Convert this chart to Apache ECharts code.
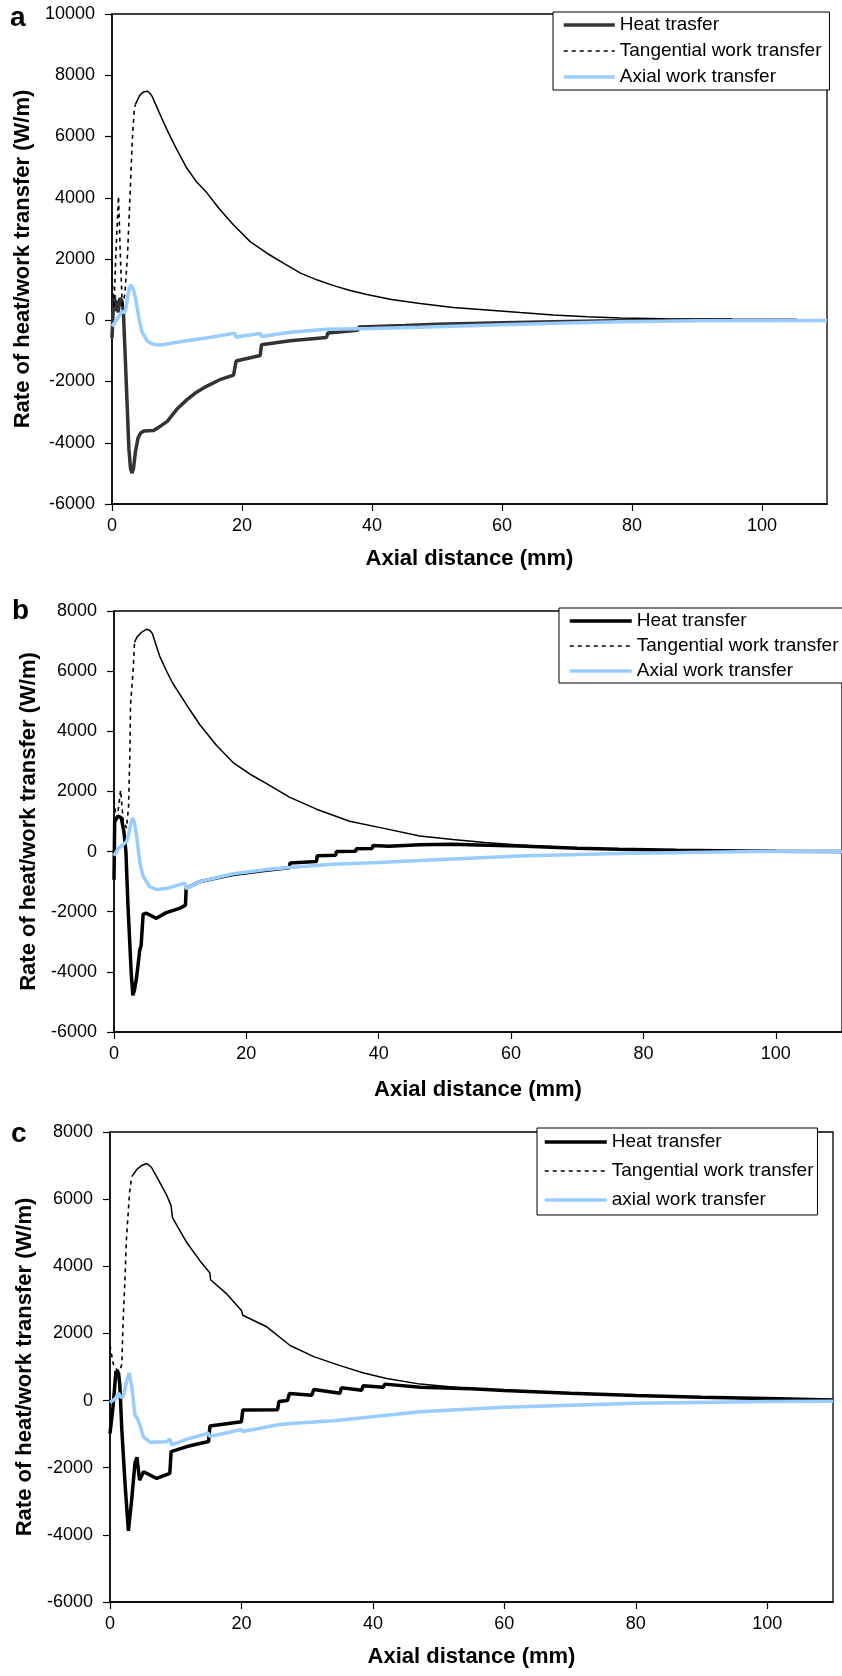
<!DOCTYPE html>
<html>
<head>
<meta charset="utf-8">
<script src="https://cdn.jsdelivr.net/npm/echarts@6/dist/echarts.min.js"></script>
<style>
  html, body { margin: 0; padding: 0; background: #fff; }
  #chart { width: 842px; height: 1676px; }
</style>
</head>
<body>
<div id="chart"></div>
<script>
// x axis ticks (mm)
let xMin = 0, xMax = 110, xStep = 20

// ---- panel a: [axial distance (mm), W/m]
let heatA = [[0, -580], [0.15, 200], [0.35, 820], [0.55, 300], [0.75, 650], [0.95, 250], [1.2, 720], [1.5, 650],
  [1.75, 300], [2.0, -1000], [2.3, -2600], [2.6, -4200], [2.85, -4850], [3.07, -4990], [3.3, -4850], [3.6, -4300],
  [4.0, -3850], [4.4, -3680], [4.9, -3620], [6.4, -3600], [7.5, -3450], [8.5, -3300], [10, -2900], [11.5, -2600],
  [13, -2350], [14.6, -2150], [16.5, -1950], [18.7, -1790], [19.0, -1780], [19.1, -1330], [22.8, -1150], [23.0, -800],
  [27.4, -670], [33.0, -560], [33.2, -420], [37.8, -330], [38, -220], [45, -170], [50, -130], [60, -80], [70, -40],
  [80, -10], [90, 0], [105.4, 0]]
let tangDashA = [[0, 1400], [0.3, 400], [0.6, 2200], [1.0, 4050], [1.3, 2000], [1.6, 400], [2.0, 900], [2.4, 2200],
  [2.8, 4200], [3.1, 5800], [3.4, 6800], [3.6, 7050]]
let tangA = [[3.6, 7050], [4.3, 7350], [4.8, 7450], [5.4, 7480], [5.8, 7420], [6.2, 7300], [6.9, 6960], [7.6, 6620],
  [8.4, 6250], [9.2, 5900], [10, 5560], [11.5, 4970], [13, 4520], [14.6, 4160], [16.5, 3640], [18.7, 3110],
  [21.3, 2560], [23.9, 2180], [26.5, 1850], [29, 1540], [31.5, 1320], [34.1, 1130], [36.5, 980], [39.2, 840],
  [43, 680], [47.4, 550], [52.5, 420], [57.7, 335], [62.8, 250], [67.9, 170], [73.1, 115], [78.2, 70], [85, 50],
  [95.4, 40]]
let axialA = [[0, -200], [0.4, -80], [0.7, 0], [1.1, 150], [1.5, 280], [1.9, 250], [2.1, 350], [2.4, 750], [2.7, 1080],
  [2.92, 1150], [3.2, 1050], [3.58, 770], [4.1, 120], [4.6, -370], [5.4, -670], [6.2, -780], [6.9, -810], [8, -790],
  [10, -720], [12, -650], [15, -560], [18.9, -420], [19.1, -560], [19.6, -530], [22.8, -430], [23.0, -530], [27.4, -390],
  [33, -290], [33.3, -340], [40, -270], [47.4, -230], [60, -150], [70, -90], [78.2, -45], [90, -20], [110, -10]]

// ---- panel b
let heatB = [[0, -940], [0.1, 1000], [0.3, 950], [0.6, 1180], [1.1, 1120], [1.5, 660], [1.8, 0], [2.1, -1740],
  [2.6, -4030], [2.85, -4780], [3.1, -4600], [3.4, -4200], [3.9, -3270], [4.1, -3120], [4.4, -2080], [4.9, -2050],
  [6.4, -2220], [7.9, -2030], [9.9, -1890], [10.8, -1780], [10.9, -1220], [13, -1000], [18, -760], [23, -620],
  [26.5, -540], [26.6, -380], [30.6, -330], [30.7, -140], [33.5, -120], [33.6, 0], [36.5, 10], [36.6, 90], [39, 100],
  [39.1, 200], [41.5, 180], [41.6, 240], [46.2, 230], [51, 240], [55, 220], [61.2, 185], [70, 110], [76.3, 75],
  [85, 40], [91.4, 30], [100, 10], [110, 5]]
let tangDashB = [[0, 1700], [0.4, 1000], [0.7, 1500], [1.0, 2040], [1.4, 1000], [1.9, 780], [2.2, 1500], [2.4, 3300],
  [2.5, 4900], [2.9, 6050], [3.1, 6960]]
let tangB = [[3.1, 6960], [3.5, 7140], [4.2, 7300], [4.9, 7390], [5.4, 7360], [5.8, 7250], [6.3, 6900], [6.9, 6500],
  [7.9, 6020], [8.9, 5590], [10.9, 4900], [13, 4210], [15.5, 3530], [18, 2960], [20.5, 2580], [23, 2270], [26.5, 1810],
  [30.6, 1410], [35.6, 1010], [40.6, 780], [46.2, 520], [51.2, 400], [56, 300], [61.2, 220], [70, 120], [76.3, 75],
  [91.4, 30], [97, 20]]
let axialB = [[0, -140], [0.6, 90], [1.4, 240], [1.9, 330], [2.2, 550], [2.5, 900], [2.8, 1120], [3.1, 950], [3.4, 550],
  [3.9, -370], [4.4, -820], [5.4, -1170], [6.4, -1260], [7.9, -1230], [10.7, -1050], [10.9, -1230], [13, -1000],
  [18, -740], [23, -600], [26.5, -530], [33, -420], [40, -360], [46.2, -300], [61.2, -145], [76.3, -60], [97, 0],
  [110, 0]]

// ---- panel c
let heatC = [[0, -985], [0.5, -110], [0.9, 875], [1.3, 820], [1.5, 440], [1.8, -875], [2.3, -2520], [2.8, -3880],
  [2.9, -3920], [3.3, -2950], [3.8, -1860], [4.1, -1690], [4.5, -2370], [5.1, -2120], [7.1, -2320], [9.1, -2170],
  [9.3, -1520], [11.7, -1370], [15.0, -1220], [15.2, -760], [20.0, -630], [20.2, -280], [25.5, -270], [25.7, -30],
  [27.0, 0], [27.3, 210], [30.7, 160], [31, 330], [35, 220], [35.2, 380], [38.3, 310], [38.5, 440], [41.6, 400],
  [41.8, 490], [47.2, 400], [55, 350], [60, 300], [70, 220], [80, 150], [90, 100], [100, 60], [110, 20]]
let tangDashC = [[0, 1640], [0.5, 1090], [1.0, 930], [1.5, 875], [1.8, 1090], [2.0, 2400], [2.3, 3720], [2.5, 4810],
  [2.8, 5690], [3.0, 6240], [3.3, 6670]]
let tangC = [[3.3, 6670], [4.1, 6890], [4.8, 7000], [5.6, 7060], [6.3, 6950], [7.1, 6670], [8.6, 6130], [9.3, 5800],
  [9.5, 5450], [11.7, 4700], [13.7, 4160], [15.2, 3800], [15.3, 3600], [17.8, 3170], [20, 2680], [20.2, 2540],
  [23.9, 2190], [27.4, 1640], [31, 1310], [35, 1040], [38.6, 820], [42.1, 660], [47.2, 490], [55, 350], [60, 290],
  [70, 210], [80, 140], [90, 90], [100, 50], [110, 20]]
let axialC = [[0, -55], [0.8, 55], [1.3, 220], [1.6, 110], [2.0, 110], [2.5, 550], [2.9, 820], [3.3, 440], [3.8, -440],
  [4.2, -550], [4.6, -770], [5.1, -1090], [6.1, -1240], [8.6, -1230], [9.1, -1150], [9.4, -1320], [11.7, -1150],
  [15.0, -975], [15.2, -1070], [20.0, -860], [20.2, -920], [25.6, -720], [27.4, -680], [34, -600], [47.2, -330],
  [60, -200], [80, -80], [100, -30], [110, -20]]

let yTicksA = { min: -6000, max: 10000, step: 2000 }
let yTicksBC = { min: -6000, max: 8000, step: 2000 }

let FONT = "'Liberation Sans', Arial, Helvetica, sans-serif"
let BLUE = '#99ccff'
let DASH = [4, 4]

let Chart = echarts.init(document.getElementById('chart'))

function xAx(i, gap) {
    return {
        gridIndex: i, type: 'value', min: xMin, max: xMax, interval: xStep,
        name: 'Axial distance (mm)', nameLocation: 'middle', nameGap: gap,
        nameTextStyle: { fontFamily: FONT, fontSize: 22, fontWeight: 'bold', color: '#000' },
        axisLine: { onZero: false, lineStyle: { color: '#000', width: 1.5 } },
        axisTick: { length: 7, lineStyle: { color: '#000', width: 1.2 } },
        axisLabel: { fontFamily: FONT, fontSize: 18, color: '#000', margin: 13, showMaxLabel: false },
        splitLine: { show: false }
    }
}
function yAx(i, t) {
    return {
        gridIndex: i, type: 'value', min: t.min, max: t.max, interval: t.step,
        name: 'Rate of heat/work transfer (W/m)', nameLocation: 'middle', nameRotate: 90, nameGap: 55,
        nameTextStyle: { fontFamily: FONT, fontSize: 22, fontWeight: 'bold', color: '#000' },
        axisLine: { onZero: false, lineStyle: { color: '#000', width: 1.5 } },
        axisTick: { length: 7, lineStyle: { color: '#000', width: 1.2 } },
        axisLabel: { fontFamily: FONT, fontSize: 18, color: '#000', margin: 17, formatter: v => String(v) },
        splitLine: { show: false }
    }
}
function line(name, i, data, color, width, type) {
    return {
        name: name, type: 'line', xAxisIndex: i, yAxisIndex: i, data: data,
        symbol: 'none', showSymbol: false, silent: true,
        lineStyle: { color: color, width: width, type: type || 'solid' },
        itemStyle: { color: color }
    }
}
function legendAt(pos, names, w, gap, pad) {
    return Object.assign({
        orient: 'vertical', data: names, itemWidth: w, itemHeight: 12, itemGap: gap, padding: pad,
        borderColor: '#000', borderWidth: 1, backgroundColor: '#fff', selectedMode: false,
        itemStyle: { opacity: 0, borderWidth: 0 },
        lineStyle: { width: 'inherit', type: 'inherit' },
        textStyle: { fontFamily: FONT, fontSize: 19, color: '#000', lineHeight: 20 }
    }, pos)
}

let option = {
    animation: false,
    backgroundColor: '#fff',
    grid: [
        { left: 112, top: 14, width: 715, height: 490, show: true, borderColor: '#000', borderWidth: 1.3 },
        { left: 114, top: 611, width: 729, height: 421, show: true, borderColor: '#000', borderWidth: 1.3 },
        { left: 110, top: 1132, width: 723, height: 470, show: true, borderColor: '#000', borderWidth: 1.3 }
    ],
    xAxis: [xAx(0, 44), xAx(1, 47), xAx(2, 44)],
    yAxis: [yAx(0, yTicksA), yAx(1, yTicksBC), yAx(2, yTicksBC)],
    legend: [
        legendAt({ left: 553, top: 12 }, ['Heat trasfer', 'Tangential work transfer', 'Axial work transfer'], 51, 6, [3, 8, 3, 9]),
        legendAt({ left: 559, top: 608 }, ['Heat transfer', 'Tangential work transfer', 'Axial work transfer'], 62, 5, [3, 10, 2, 9]),
        legendAt({ left: 537, top: 1128 }, ['Heat transfer', 'Tangential work transfer', 'axial work transfer'], 62, 9, [4, 4, 5, 6])
    ],
    graphic: [
        { type: 'text', left: 10, top: 4, style: { text: 'a', font: 'bold 28px ' + FONT, fill: '#000' } },
        { type: 'text', left: 12, top: 597, style: { text: 'b', font: 'bold 28px ' + FONT, fill: '#000' } },
        { type: 'text', left: 11, top: 1120, style: { text: 'c', font: 'bold 28px ' + FONT, fill: '#000' } }
    ],
    series: [
        line('Heat trasfer', 0, heatA, '#333333', 3.5),
        line('Tangential work transfer', 0, tangDashA, '#000', 1.6, DASH),
        line('Tangential work transfer', 0, tangA, '#000', 1.5),
        line('Axial work transfer', 0, axialA, BLUE, 3.5),

        line('Heat transfer', 1, heatB, '#000', 3.5),
        line('Tangential work transfer', 1, tangDashB, '#000', 1.6, DASH),
        line('Tangential work transfer', 1, tangB, '#000', 1.5),
        line('Axial work transfer', 1, axialB, BLUE, 3.5),

        line('Heat transfer', 2, heatC, '#000', 3.5),
        line('Tangential work transfer', 2, tangDashC, '#000', 1.6, DASH),
        line('Tangential work transfer', 2, tangC, '#000', 1.5),
        line('axial work transfer', 2, axialC, BLUE, 3.5)
    ]
}
Chart.setOption(option)
</script>
</body>
</html>
